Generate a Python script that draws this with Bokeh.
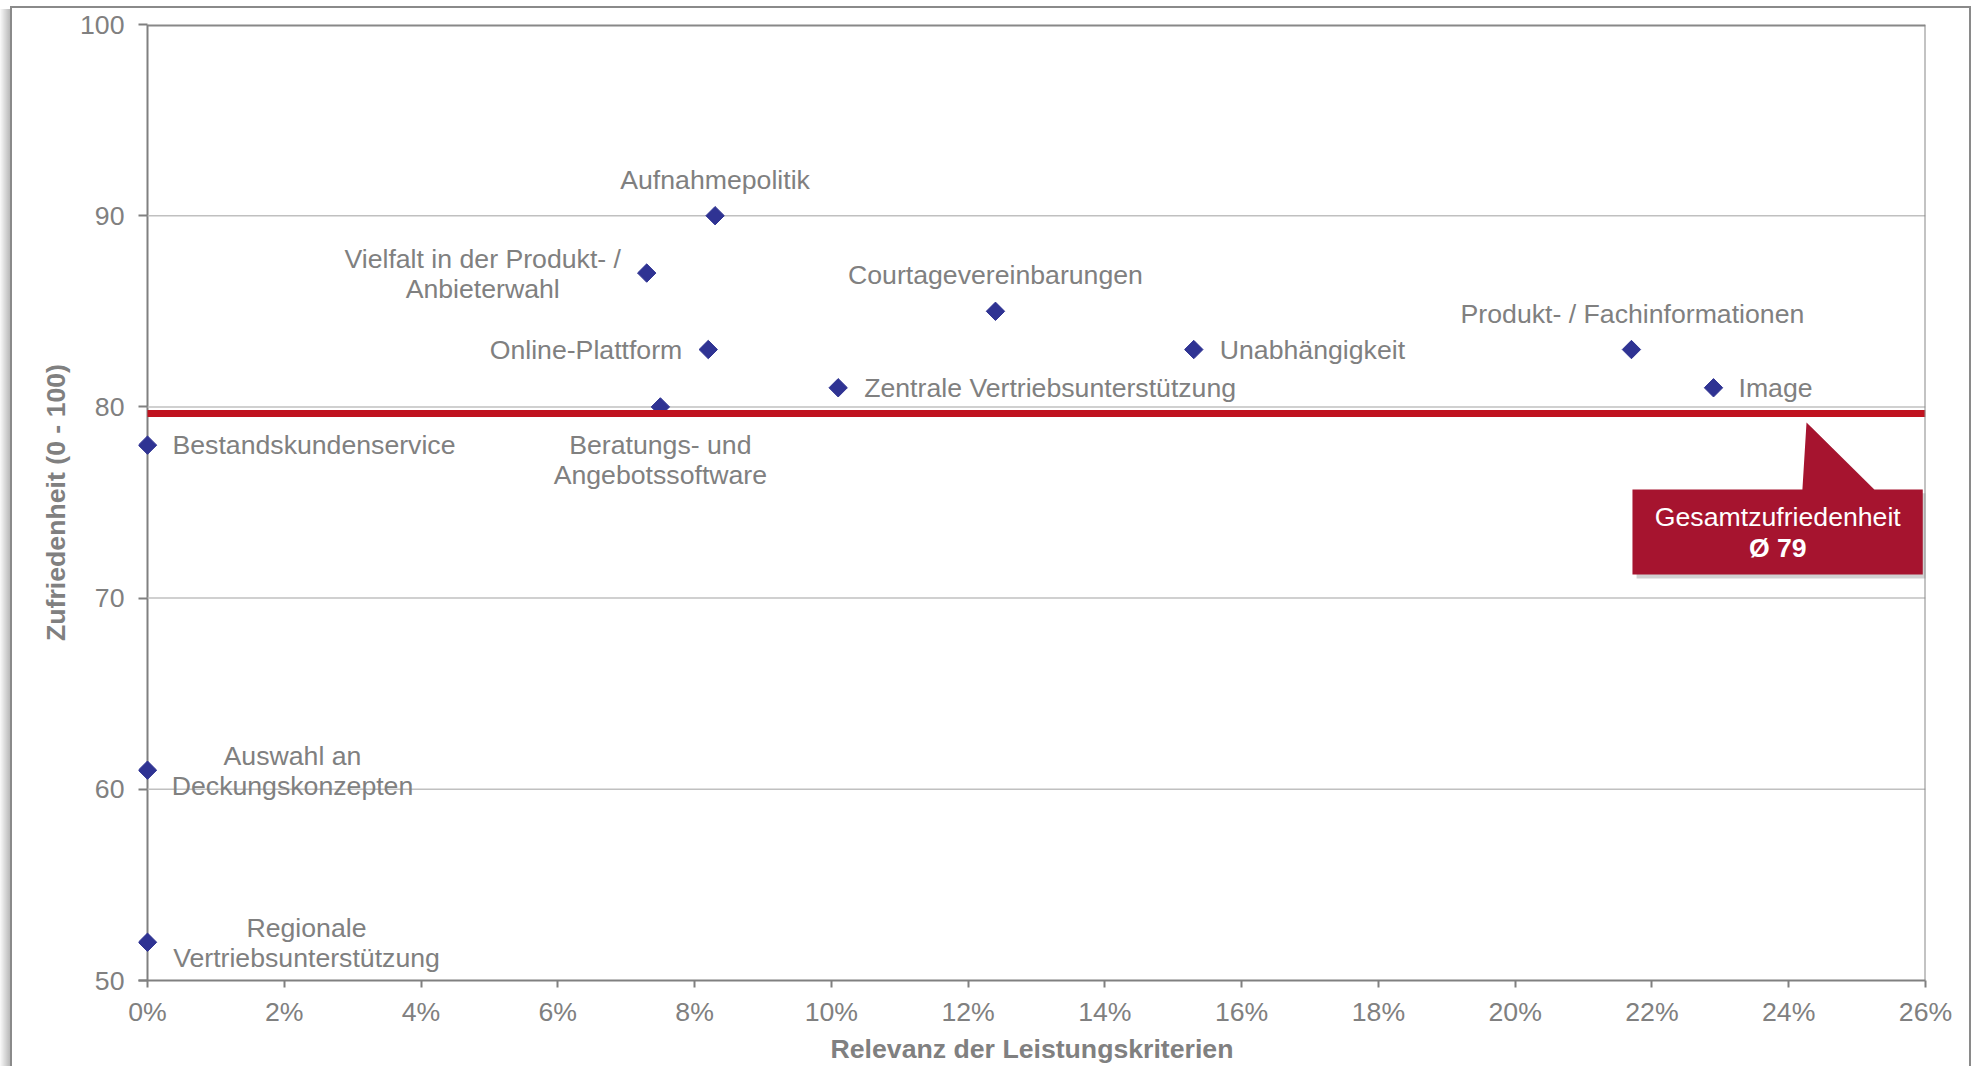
from bokeh.plotting import figure
from bokeh.models import (ColumnDataSource, Range1d, FixedTicker, NumeralTickFormatter, Span)
from bokeh.core.properties import value
from bokeh.embed import file_html
from bokeh.resources import INLINE

# ---- data ----
criteria = [
    "Aufnahmepolitik",
    "Vielfalt in der Produkt- /\nAnbieterwahl",
    "Courtagevereinbarungen",
    "Online-Plattform",
    "Unabhängigkeit",
    "Produkt- / Fachinformationen",
    "Zentrale Vertriebsunterstützung",
    "Image",
    "Beratungs- und\nAngebotssoftware",
    "Bestandskundenservice",
    "Auswahl an\nDeckungskonzepten",
    "Regionale\nVertriebsunterstützung",
]
relevance = [0.083, 0.073, 0.124, 0.082, 0.153, 0.217, 0.101, 0.229, 0.075, 0.0, 0.0, 0.0]
satisfaction = [90, 87, 85, 83, 83, 83, 81, 81, 80, 78, 61, 52]
overall_avg = 79.65
overall_label = "Ø 79"
x_ticks = [0.0, 0.02, 0.04, 0.06, 0.08, 0.10, 0.12, 0.14, 0.16, 0.18, 0.20, 0.22, 0.24, 0.26]
y_ticks = [50, 60, 70, 80, 90, 100]
x_min, x_max = 0.0, 0.26
y_min, y_max = 50, 100

# ---- label placement (screen offsets) ----
label_align = ["center", "center", "center", "right", "left", "center", "left", "left", "center", "left", "center", "center"]
label_dx = [0, -164, 0, -26, 26, 1, 26, 25, 0, 25, 145, 159]
label_dy = [-36, 1, -36, 0, 0, -36, 0, 0, 53, 0, 1, 1]

FONT = "Liberation Sans"
GRAY = "#808080"
FS = "20pt"

W, H = 1972, 1066
FRAME_LEFT, AXIS_X, FRAME_RIGHT = 138, 147, 1925
pad = (AXIS_X - FRAME_LEFT) * (x_max - x_min) / (FRAME_RIGHT - AXIS_X)

p = figure(width=W, height=H, output_backend="svg", toolbar_location=None,
           x_range=Range1d(x_min - pad, x_max), y_range=Range1d(y_min, y_max),
           min_border_left=FRAME_LEFT, min_border_right=W - FRAME_RIGHT, min_border_top=24,
           min_border_bottom=H - 980,
           border_fill_color=None, background_fill_color="white",
           outline_line_color=None)

frame_col = "#8a8a8a"
p.styles = {
    "background-image": ", ".join([
        f"linear-gradient({frame_col}, {frame_col})",
        f"linear-gradient({frame_col}, {frame_col})",
        f"linear-gradient({frame_col}, {frame_col})",
        "linear-gradient(to right, rgba(0,0,0,0.02), rgba(0,0,0,0.28))",
    ]),
    "background-size": f"2px 100%, {1971 - 10}px 2px, 2px 100%, 10px 100%",
    "background-position": "10px 7px, 10px 6px, 1969px 6px, 0px 9px",
    "background-repeat": "no-repeat",
}

for ax in (p.xaxis[0], p.yaxis[0]):
    ax.axis_line_color = GRAY
    ax.axis_line_width = 2
    ax.major_tick_line_color = GRAY
    ax.major_tick_line_width = 2
    ax.major_tick_out = 7
    ax.major_tick_in = 0
    ax.minor_tick_line_color = None
    ax.major_label_text_font = FONT
    ax.major_label_text_font_size = FS
    ax.major_label_text_color = GRAY
    ax.axis_label_text_font = FONT
    ax.axis_label_text_font_size = FS
    ax.axis_label_text_font_style = "bold"
    ax.axis_label_text_color = GRAY

p.xaxis.ticker = FixedTicker(ticks=x_ticks)
p.xaxis.formatter = NumeralTickFormatter(format="0%")
p.yaxis.ticker = FixedTicker(ticks=y_ticks)
p.xaxis.axis_label = "Relevanz der Leistungskriterien"
p.yaxis.axis_label = "Zufriedenheit (0 - 100)"
p.xaxis.major_label_standoff = 9
p.xaxis.axis_label_standoff = 4
# y axis: ticks drawn inward from the padded frame edge up to x = 0
p.yaxis.axis_line_color = None
p.yaxis.major_tick_out = 0
p.yaxis.major_tick_in = AXIS_X - FRAME_LEFT
p.yaxis.major_label_standoff = 14
p.yaxis.axis_label_standoff = 6

p.xgrid.grid_line_color = None
p.ygrid.grid_line_color = None

# grid lines, top and right border
inner = [t for t in y_ticks if y_min < t < y_max]
p.segment(x0=[x_min] * len(inner), x1=[x_max] * len(inner), y0=inner, y1=inner,
          line_color="#C0C0C0", line_width=1.5)
p.segment(x0=[x_min], x1=[x_max], y0=[y_max], y1=[y_max], line_color="#888888", line_width=4)
p.add_layout(Span(location=x_max, dimension="height", line_color="#888888", line_width=2))
p.add_layout(Span(location=x_min, dimension="height", line_color=GRAY, line_width=2, level="underlay"))

# points
src = ColumnDataSource(dict(x=relevance, y=satisfaction, label=criteria,
                            align=label_align, dx=label_dx, dy=label_dy))
p.scatter("x", "y", source=src, marker="square", size=13, angle=0.785398,
          fill_color="#2F3393", line_color="#2F3393")
p.text("x", "y", text="label", source=src, text_align="align", text_baseline="middle",
       x_offset="dx", y_offset="dy", text_font=value(FONT), text_font_size=FS,
       text_color=GRAY, text_line_height=1.0)

# average line
p.segment(x0=[x_min], x1=[x_max], y0=[overall_avg], y1=[overall_avg], line_color="#C0131F", line_width=7)

# callout
cx = [0.21715, 0.2420, 0.2426, 0.2525, 0.2596, 0.2596, 0.21715]
cy = [75.68, 75.68, 79.18, 75.68, 75.68, 71.23, 71.23]
p.patch([v + 0.0006 for v in cx], [v - 0.2 for v in cy], fill_color="#9a9a9a", fill_alpha=0.45, line_color=None)
p.patch(cx, cy, fill_color="#A6142F", line_color=None)
p.text([0.2384], [74.22], text=["Gesamtzufriedenheit"], text_align="center", text_baseline="middle",
       text_font=value(FONT), text_font_size=FS, text_color="white")
p.text([0.2384], [72.6], text=[overall_label], text_align="center", text_baseline="middle",
       text_font=value(FONT), text_font_size=FS, text_font_style="bold", text_color="white")

open("out.html", "w").write(file_html(p, INLINE))
